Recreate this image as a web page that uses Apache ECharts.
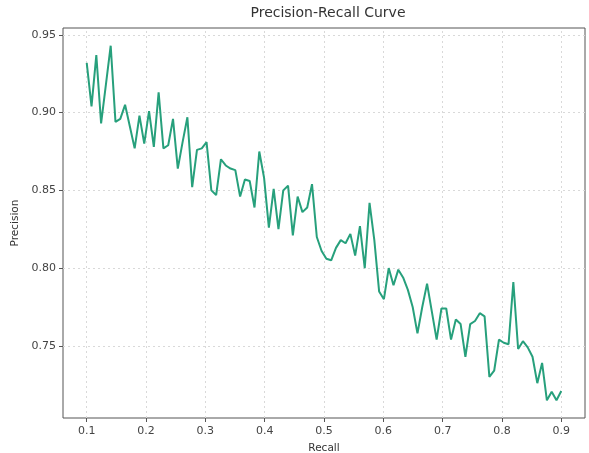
<!DOCTYPE html>
<html>
<head>
<meta charset="utf-8">
<script src="https://cdn.jsdelivr.net/npm/echarts@6/dist/echarts.min.js"></script>
<style>
html,body{margin:0;padding:0;background:#fff;}
#chart{width:589px;height:453px;}
</style>
</head>
<body>
<div id="chart"></div>
<script>
// Recall: 100 evenly spaced points from 0.1 to 0.9
const recallStart = 0.1;
const recallEnd = 0.9;
const precision = [
  0.932, 0.904, 0.937, 0.893, 0.918, 0.943, 0.894, 0.896, 0.905, 0.891,
  0.877, 0.898, 0.880, 0.901, 0.878, 0.913, 0.877, 0.879, 0.896, 0.864,
  0.881, 0.897, 0.852, 0.876, 0.877, 0.881, 0.850, 0.847, 0.870, 0.866,
  0.864, 0.863, 0.846, 0.857, 0.856, 0.839, 0.875, 0.858, 0.826, 0.851,
  0.825, 0.850, 0.853, 0.821, 0.846, 0.836, 0.839, 0.854, 0.820, 0.811,
  0.806, 0.805, 0.813, 0.818, 0.816, 0.822, 0.808, 0.827, 0.800, 0.842,
  0.818, 0.785, 0.780, 0.800, 0.789, 0.799, 0.794, 0.786, 0.775, 0.758,
  0.775, 0.790, 0.772, 0.754, 0.774, 0.774, 0.754, 0.767, 0.764, 0.743,
  0.764, 0.766, 0.771, 0.769, 0.730, 0.734, 0.754, 0.752, 0.751, 0.791,
  0.748, 0.753, 0.749, 0.743, 0.726, 0.739, 0.715, 0.7205, 0.715, 0.721
];
const recall = precision.map((_, i) => recallStart + i * (recallEnd - recallStart) / (precision.length - 1));
const xTicks = [0.1, 0.2, 0.3, 0.4, 0.5, 0.6, 0.7, 0.8, 0.9];
const yTicks = [0.75, 0.80, 0.85, 0.90, 0.95];
const titleText = 'Precision-Recall Curve';
const xName = 'Recall';
const yName = 'Precision';

const seriesData = recall.map((r, i) => [r, precision[i]]);
const gridLineStyle = {color: '#d9d9d9', type: [2, 3], width: 1};

const chart = echarts.init(document.getElementById('chart'), null, {renderer: 'canvas'});
chart.setOption({
  animation: false,
  backgroundColor: '#fff',
  textStyle: {fontFamily: 'DejaVu Sans'},
  title: {
    text: titleText, left: 323, top: 1, textAlign: 'center',
    textStyle: {fontSize: 14, fontWeight: 'normal', color: '#333', fontFamily: 'DejaVu Sans'}
  },
  grid: {left: 63, right: 4, top: 28, bottom: 35, containLabel: false, outerBoundsMode: 'none',
         show: true, borderColor: '#555', borderWidth: 1, backgroundColor: 'transparent'},
  xAxis: {
    type: 'value', min: 0.06, max: 0.94,
    name: xName, nameLocation: 'middle', nameGap: 25,
    nameTextStyle: {fontSize: 10.5, color: '#333'},
    axisLine: {show: false},
    axisTick: {show: true, length: 4, lineStyle: {color: '#555'}, customValues: xTicks},
    axisLabel: {customValues: xTicks, fontSize: 11, color: '#444', margin: 8, formatter: v => v.toFixed(1)},
    splitLine: {show: false}
  },
  yAxis: {
    type: 'value', min: 0.7036, max: 0.9544,
    name: yName, nameLocation: 'middle', nameGap: 39, nameRotate: 90,
    nameTextStyle: {fontSize: 10.5, color: '#333'},
    axisLine: {show: false},
    axisTick: {show: true, length: 4, lineStyle: {color: '#555'}, customValues: yTicks},
    axisLabel: {customValues: yTicks, fontSize: 11, color: '#444', margin: 7, formatter: v => v.toFixed(2)},
    splitLine: {show: false}
  },
  series: [{
    type: 'line',
    data: [],
    silent: true,
    z: 1,
    markLine: {
      silent: true, symbol: 'none', label: {show: false},
      lineStyle: gridLineStyle,
      data: xTicks.map(v => ({xAxis: v})).concat(yTicks.map(v => ({yAxis: v})))
    }
  }, {
    type: 'line',
    data: seriesData,
    showSymbol: false,
    lineStyle: {color: '#27a07c', width: 2},
    itemStyle: {color: '#27a07c'},
    z: 5
  }]
});
</script>
</body>
</html>
